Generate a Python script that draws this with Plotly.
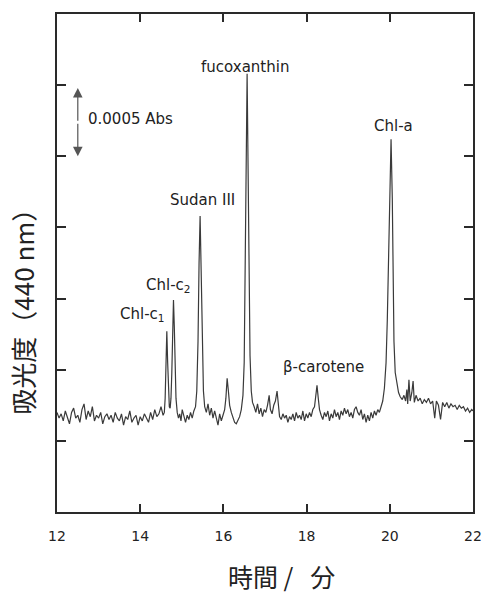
import plotly.graph_objects as go

# HPLC chromatogram, detection at 440 nm
# retention time (min)
time_min = [
    12.00, 12.05, 12.10, 12.15, 12.20, 12.25, 12.30, 12.35, 12.40, 12.45,
    12.50, 12.55, 12.60, 12.65, 12.70, 12.75, 12.80, 12.85, 12.90, 12.95,
    13.00, 13.05, 13.10, 13.15, 13.20, 13.25, 13.30, 13.35, 13.40, 13.45,
    13.50, 13.55, 13.60, 13.65, 13.70, 13.75, 13.80, 13.85, 13.90, 13.95,
    14.00, 14.05, 14.10, 14.15, 14.20, 14.25, 14.30, 14.35, 14.40, 14.45,
    14.50, 14.55, 14.58, 14.60, 14.62, 14.64, 14.66, 14.68, 14.70, 14.72,
    14.74, 14.76, 14.78, 14.80, 14.82, 14.84, 14.86, 14.89, 14.92, 14.95,
    14.98, 15.01, 15.05, 15.09, 15.13, 15.17, 15.21, 15.25, 15.29, 15.33,
    15.36, 15.39, 15.415, 15.44, 15.465, 15.49, 15.52, 15.55, 15.59, 15.63,
    15.67, 15.71, 15.75, 15.79, 15.83, 15.87, 15.91, 15.95, 15.99, 16.03,
    16.06, 16.09, 16.12, 16.15, 16.19, 16.23, 16.27, 16.31, 16.35, 16.39,
    16.43, 16.47, 16.50, 16.525, 16.55, 16.57, 16.59, 16.615, 16.64, 16.67,
    16.70, 16.74, 16.78, 16.82, 16.86, 16.90, 16.94, 16.98, 17.02, 17.06,
    17.10, 17.13, 17.17, 17.21, 17.25, 17.29, 17.32, 17.35, 17.39, 17.43,
    17.47, 17.51, 17.55, 17.59, 17.63, 17.67, 17.71, 17.75, 17.79, 17.83,
    17.87, 17.91, 17.95, 17.99, 18.03, 18.07, 18.11, 18.15, 18.19, 18.22,
    18.25, 18.28, 18.31, 18.35, 18.39, 18.43, 18.47, 18.51, 18.55, 18.59,
    18.63, 18.67, 18.71, 18.75, 18.79, 18.83, 18.87, 18.91, 18.95, 18.99,
    19.03, 19.07, 19.11, 19.15, 19.19, 19.23, 19.27, 19.31, 19.35, 19.39,
    19.43, 19.47, 19.51, 19.55, 19.59, 19.63, 19.67, 19.71, 19.75, 19.79,
    19.83, 19.87, 19.91, 19.94, 19.97, 20.00, 20.03, 20.06, 20.08, 20.10,
    20.13, 20.17, 20.21, 20.25, 20.30, 20.34, 20.38, 20.41, 20.43, 20.46,
    20.49, 20.53, 20.56, 20.59, 20.63, 20.68, 20.73, 20.78, 20.83, 20.88,
    20.93, 20.98, 21.03, 21.08, 21.12, 21.17, 21.22, 21.27, 21.32, 21.37,
    21.42, 21.47, 21.52, 21.57, 21.62, 21.67, 21.72, 21.77, 21.82, 21.87,
    21.92, 21.97, 22.00,
]

# absorbance at 440 nm, in units of 10^-3 Abs
absorbance_mabs = [
    0.70, 0.66, 0.69, 0.64, 0.71, 0.67, 0.62, 0.70, 0.73, 0.66,
    0.68, 0.63, 0.72, 0.76, 0.65, 0.71, 0.67, 0.74, 0.64, 0.68,
    0.66, 0.70, 0.62, 0.67, 0.69, 0.65, 0.68, 0.63, 0.70, 0.66,
    0.64, 0.69, 0.61, 0.67, 0.65, 0.71, 0.63, 0.66, 0.68, 0.61,
    0.67, 0.64, 0.69, 0.66, 0.63, 0.70, 0.65, 0.72, 0.67, 0.69,
    0.74, 0.68, 0.70, 0.80, 1.02, 1.27, 1.05, 0.82, 0.74, 0.73,
    0.80, 0.98, 1.25, 1.49, 1.30, 0.98, 0.80, 0.70, 0.66, 0.69,
    0.64, 0.72, 0.67, 0.63, 0.68, 0.65, 0.70, 0.66, 0.71, 0.74,
    0.85, 1.20, 1.75, 2.08, 1.70, 1.15, 0.85, 0.74, 0.70, 0.76,
    0.68, 0.73, 0.66, 0.71, 0.65, 0.61, 0.69, 0.64, 0.68, 0.72,
    0.80, 0.94, 0.85, 0.75, 0.70, 0.66, 0.63, 0.62, 0.64, 0.67,
    0.72, 0.82, 1.05, 1.60, 2.50, 3.08, 2.60, 1.70, 1.10, 0.85,
    0.77, 0.74, 0.70, 0.76, 0.69, 0.73, 0.67, 0.72, 0.70, 0.75,
    0.82, 0.72, 0.69, 0.75, 0.78, 0.85, 0.74, 0.67, 0.65, 0.69,
    0.66, 0.68, 0.63, 0.67, 0.65, 0.69, 0.64, 0.70, 0.66, 0.68,
    0.65, 0.71, 0.64, 0.69, 0.66, 0.70, 0.67, 0.72, 0.74, 0.80,
    0.89, 0.80, 0.72, 0.68, 0.65, 0.70, 0.67, 0.71, 0.64, 0.69,
    0.66, 0.72, 0.67, 0.70, 0.65, 0.71, 0.68, 0.73, 0.69, 0.72,
    0.67, 0.70, 0.66, 0.72, 0.74, 0.70, 0.68, 0.72, 0.65, 0.69,
    0.63, 0.68, 0.64, 0.70, 0.66, 0.71, 0.68, 0.72, 0.70, 0.74,
    0.78, 0.87, 1.05, 1.35, 1.80, 2.30, 2.62, 2.20, 1.60, 1.20,
    0.98, 0.90, 0.84, 0.81, 0.79, 0.82, 0.78, 0.86, 0.76, 0.93,
    0.78, 0.84, 0.92, 0.77, 0.82, 0.78, 0.80, 0.76, 0.79, 0.77,
    0.80, 0.76, 0.78, 0.66, 0.78, 0.75, 0.65, 0.77, 0.74, 0.77,
    0.73, 0.76, 0.74, 0.75, 0.72, 0.75, 0.73, 0.74, 0.71, 0.73,
    0.70, 0.72, 0.71,
]

# peak labels: text, anchor time, anchor absorbance, horizontal anchor
peak_labels = ["Chl-c<sub>1</sub>", "Chl-c<sub>2</sub>", "Sudan III",
               "fucoxanthin", "β-carotene", "Chl-a"]
label_time = [14.64, 15.27, 15.49, 16.52, 18.41, 20.10]
label_abs = [1.385, 1.595, 2.19, 3.13, 1.02, 2.71]
label_anchor = ["right", "right", "center", "center", "center", "center"]

x_ticks = [12, 14, 16, 18, 20, 22]
y_ticks = [0.0, 0.5, 1.0, 1.5, 2.0, 2.5, 3.0, 3.5]

# 0.0005 Abs scale bar (in 10^-3 Abs)
scale_time = 12.5
scale_low, scale_high = 2.50, 2.98

LABEL_FONT = dict(family="DejaVu Sans", size=15, color="#222")
CJK_FONT = dict(family="Noto Sans CJK JP", size=26, color="#222")

fig = go.Figure()
fig.add_trace(go.Scatter(
    x=time_min, y=absorbance_mabs, mode="lines",
    line=dict(color="#3a3a3a", width=1.2),
    hoverinfo="skip", showlegend=False,
))

annotations = []
for txt, t, a, anc in zip(peak_labels, label_time, label_abs, label_anchor):
    annotations.append(dict(
        x=t, y=a, xref="x", yref="y", text=txt, showarrow=False,
        xanchor=anc, yanchor="middle", font=LABEL_FONT,
    ))

mid = (scale_low + scale_high) / 2
for tip in (scale_high, scale_low):
    annotations.append(dict(
        x=scale_time, y=tip, ax=scale_time, ay=mid,
        xref="x", yref="y", axref="x", ayref="y",
        text="", showarrow=True, arrowhead=2, arrowsize=1.6,
        arrowwidth=1.2, arrowcolor="#555",
    ))
annotations.append(dict(
    x=12.70, y=2.76, xref="x", yref="y", text="0.0005 Abs",
    showarrow=False, xanchor="left", yanchor="middle", font=LABEL_FONT,
))

# axis titles
annotations.append(dict(
    x=0.54, y=-0.128, xref="paper", yref="paper",
    text="時間 /\u00a0\u00a0\u00a0分",
    showarrow=False, xanchor="center", yanchor="middle",
    font=dict(CJK_FONT, size=25),
))
annotations.append(dict(
    x=-0.082, y=0.416, xref="paper", yref="paper", text="吸光度（440 nm）",
    showarrow=False, xanchor="center", yanchor="middle", textangle=-90,
    font=CJK_FONT,
))

axis_common = dict(
    showline=True, linecolor="#2a2a2a", linewidth=1.5, mirror="ticks",
    ticks="inside", tickcolor="#2a2a2a", tickwidth=1.5,
    showgrid=False, zeroline=False, automargin=False,
)

fig.update_layout(
    width=485, height=593,
    margin=dict(l=57, r=12, t=14, b=81),
    paper_bgcolor="white", plot_bgcolor="white",
    xaxis=dict(range=[12, 22], tickvals=x_ticks, ticklen=8,
               tickfont=dict(family="DejaVu Sans", size=14, color="#222"),
               ticklabelstandoff=10, **axis_common),
    yaxis=dict(range=[0, 3.5], tickvals=y_ticks, ticklen=9,
               showticklabels=False, **axis_common),
    annotations=annotations,
)

fig.write_html("out.html")
